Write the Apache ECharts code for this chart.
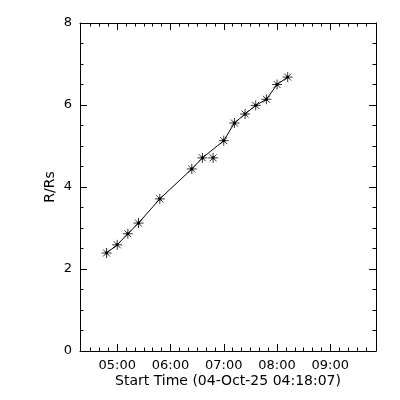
<!DOCTYPE html>
<html>
<head>
<meta charset="utf-8">
<script src="https://cdn.jsdelivr.net/npm/echarts@6/dist/echarts.min.js"></script>
<style>html,body{margin:0;padding:0;background:#fff}#c{width:400px;height:400px}</style>
</head>
<body>
<div id="c"></div>
<script>
// ---- data (times as HH:MM on 04-Oct-25) ----
const obsTimes = ['04:48','05:00','05:12','05:24','05:48','06:24','06:36','06:48','07:00','07:12','07:24','07:36','07:48','08:00','08:12'];
const heights = [2.39,2.59,2.86,3.12,3.71,4.44,4.71,4.71,5.13,5.56,5.78,5.99,6.14,6.50,6.68];
const fitHeights = [2.39,2.59,2.86,3.12,3.71,4.44,4.71,4.92,5.13,5.56,5.78,5.99,6.14,6.50,6.68];
const majorTickLabels = ['05:00','06:00','07:00','08:00','09:00'];
const minorTickTimes = ['04:30','04:40','04:50','05:10','05:20','05:30','05:40','05:50','06:10','06:20','06:30','06:40','06:50','07:10','07:20','07:30','07:40','07:50','08:10','08:20','08:30','08:40','08:50','09:10','09:20','09:30','09:40'];
const startTime = '04:18:07';
const yTicks = [0,2,4,6,8];
const xTitle = 'Start Time (04-Oct-25 04:18:07)';
const yTitle = 'R/Rs';

function toMin(s){const p=s.split(':').map(Number);return p[0]*60+p[1]+(p[2]||0)/60;}
function fmt(v){const h=Math.floor(v/60+1e-6),m=Math.round(v-h*60);return String(h).padStart(2,'0')+':'+String(m).padStart(2,'0');}

const xMin = toMin(startTime);
const xMax = xMin + 20000/60;
const majorVals = majorTickLabels.map(toMin);
const minorVals = minorTickTimes.map(toMin);
const FONT = 'DejaVu Sans';
const black = '#000';
const gridRect = {left:80, right:24, top:23, bottom:49};

function xAx(grid, pos, vals, len, labels, line){
  const a = {type:'value', gridIndex:grid, position:pos, min:xMin, max:xMax,
    splitLine:{show:false},
    axisLine:{show:line, onZero:false, lineStyle:{color:black,width:1}},
    axisTick:{show:true, inside:true, length:len, customValues:vals, lineStyle:{color:black,width:1}},
    axisLabel:{show:labels, customValues:vals, formatter:fmt, margin:8, fontSize:13, color:black, fontFamily:FONT}
  };
  if(labels){a.name=xTitle;a.nameLocation='middle';a.nameGap=23;a.nameMoveOverlap=false;a.nameTextStyle={fontSize:14,color:black,fontFamily:FONT};}
  return a;
}
function yAx(grid, pos, labels, show){
  const a = {type:'value', gridIndex:grid, position:pos, min:0, max:8, interval:2, show:show,
    splitLine:{show:false},
    axisLine:{show:true, onZero:false, lineStyle:{color:black,width:1}},
    axisTick:{show:true, inside:true, length:7, lineStyle:{color:black,width:1}},
    minorTick:{show:true, splitNumber:4, length:3.5, lineStyle:{color:black,width:1}},
    axisLabel:{show:labels, margin:8, fontSize:13, color:black, fontFamily:FONT}
  };
  if(labels){a.name=yTitle;a.nameLocation='middle';a.nameGap=23;a.nameMoveOverlap=false;a.nameRotate=90;a.nameTextStyle={fontSize:14,color:black,fontFamily:FONT};}
  return a;
}

const chart = echarts.init(document.getElementById('c'), null, {renderer:'canvas'});
chart.setOption({
  animation:false,
  backgroundColor:'#fff',
  grid:[Object.assign({},gridRect),Object.assign({},gridRect)],
  xAxis:[
    xAx(0,'bottom',majorVals,7,true,true),
    xAx(0,'top',majorVals,7,false,true),
    xAx(1,'bottom',minorVals,3.5,false,false),
    xAx(1,'top',minorVals,3.5,false,false)
  ],
  yAxis:[
    yAx(0,'left',true,true),
    yAx(0,'right',false,true),
    yAx(1,'left',false,false)
  ],
  series:[
    {type:'line', xAxisIndex:0, yAxisIndex:0, data:obsTimes.map((t,i)=>[toMin(t),fitHeights[i]]),
     showSymbol:false, symbol:'none', lineStyle:{color:black,width:1}, silent:true},
    {type:'scatter', xAxisIndex:0, yAxisIndex:0, data:obsTimes.map((t,i)=>[toMin(t),heights[i]]),
     symbol:'path://M0,5L10,5M5,0L5,10M1.5,1.5L8.5,8.5M8.5,1.5L1.5,8.5M4,4L6,4L6,6L4,6Z',
     symbolSize:10, itemStyle:{color:black, borderColor:black, borderWidth:1}}
  ]
});
</script>
</body>
</html>
